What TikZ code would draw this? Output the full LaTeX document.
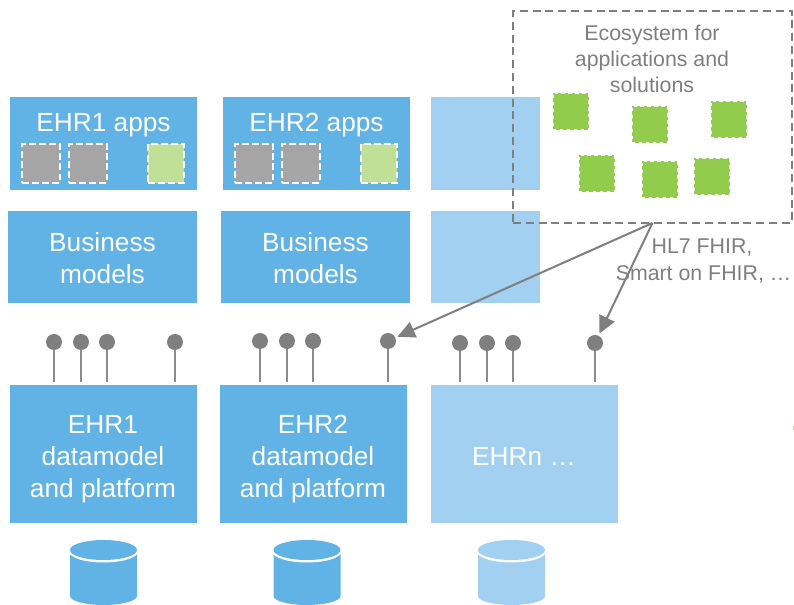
\documentclass[tikz,border=0pt]{standalone}
\usepackage{fontspec}
\setmainfont{Liberation Sans}
\definecolor{ehrblue}{HTML}{61B2E5}
\definecolor{ehrlight}{HTML}{A1D0F0}
\definecolor{ehrgray}{HTML}{7F7F7F}
\definecolor{appgray}{HTML}{A5A5A5}
\definecolor{appgreen}{HTML}{92CC4C}
\definecolor{applight}{HTML}{BFE096}
\newcommand{\dbcyl}[2]{%
  \fill[#2] (#1,552) -- (#1,596) arc[start angle=180,end angle=0,x radius=33.5,y radius=9] -- ++(0,-44) -- cycle;
  \fill[white] (#1+33.5,551.5) ellipse[x radius=34.5,y radius=11];
  \fill[#2] (#1+33.5,550) ellipse[x radius=33.5,y radius=10];
}
\tikzset{
  x=0.75pt,y=-0.75pt,
  wh/.style 2 args={minimum width=#1*0.75pt,minimum height=#2*0.75pt,inner sep=0pt,outer sep=0pt},
  bluebox/.style={fill=ehrblue,text=white,font=\fontsize{19.7}{24}\selectfont,align=center},
  lightbox/.style={fill=ehrlight,text=white,font=\fontsize{19.7}{24}\selectfont,align=center},
  boxtext/.style={text=white,font=\fontsize{19.7}{24}\selectfont,align=center,inner sep=0pt},
  slot/.style={wh={38}{39},draw=white,line width=1.4pt,dash pattern=on 5.2pt off 2.4pt},
  grayslot/.style={slot,fill=appgray},
  greenslot/.style={slot,fill=applight,wh={36}{39}},
  eco/.style={wh={36}{37},fill=appgreen,draw=white,line width=0.8pt,dash pattern=on 2.6pt off 2.6pt},
  pin/.style={circle,fill=ehrgray,minimum size=12pt,inner sep=0pt,outer sep=0pt},
  stem/.style={draw=ehrgray!90,line width=1.5pt,shorten >=2.2pt},
  link/.style={draw=ehrgray,line width=1.5pt,shorten >=1.8pt,-{Triangle[length=13pt,width=12.5pt]}},
  graytext/.style={text=ehrgray,font=\fontsize{16}{19.5}\selectfont,align=center,inner sep=0pt},
}
\usetikzlibrary{arrows.meta}
\begin{document}
\begin{tikzpicture}
\useasboundingbox (0,0) rectangle (794,605);
% app layer
\node[bluebox,wh={187}{93}] (apps1) at (103.5,143.5) {};
\node[bluebox,wh={187}{93}] (apps2) at (316.5,143.5) {};
\node[lightbox,wh={109}{93}] (apps3) at (485.5,143.5) {};
\node[boxtext] (apps1t) at (103.5,125.5) {EHR1 apps};
\node[boxtext] (apps2t) at (316.5,125.5) {EHR2 apps};
\node[grayslot] (s11) at (41,163.5) {};
\node[grayslot] (s12) at (88,163.5) {};
\node[greenslot] (s13) at (166,163.5) {};
\node[grayslot] (s21) at (254,163.5) {};
\node[grayslot] (s22) at (301,163.5) {};
\node[greenslot] (s23) at (379,163.5) {};
% business layer
\node[bluebox,wh={189}{92}] (biz1) at (102.5,257) {};
\node[bluebox,wh={189}{92}] (biz2) at (315.5,257) {};
\node[lightbox,wh={109}{92}] (biz3) at (485.5,257) {};
\node[boxtext] (biz1t) at (102.5,258) {Business\\models};
\node[boxtext] (biz2t) at (315.5,258) {Business\\models};
% platforms
\node[bluebox,wh={187}{138}] (plat1) at (103.5,454) {};
\node[bluebox,wh={187}{138}] (plat2) at (313.5,454) {};
\node[lightbox,wh={187}{138}] (plat3) at (524,454) {};
\node[boxtext] (plat1t) at (103,459) {EHR1\\datamodel\\and platform};
\node[boxtext] (plat2t) at (313,459) {EHR2\\datamodel\\and platform};
\node[boxtext] (plat3t) at (524,456) {EHRn …};
% pins
\foreach \n/\x/\y/\p in {p11/54/342/plat1,p12/81/342/plat1,p13/107/342/plat1,p14/175/342/plat1,
                         p21/260/341/plat2,p22/287/341/plat2,p23/313/341/plat2,p24/388/341/plat2,
                         p31/460/343/plat3,p32/487/343/plat3,p33/513/343/plat3,p34/595/343/plat3}{
  \node[pin] (\n) at (\x,\y) {};
  \draw[stem] (\n) -- (\n |- \p.north);
}
% ecosystem
\node[wh={279}{212},draw=ehrgray,line width=1.5pt,dash pattern=on 6pt off 3.6pt] (ecobox) at (652.5,117) {};
\node[graytext] (ecot) at (652,59) {Ecosystem for\\applications and\\solutions};
\node[eco] (e1) at (571,111.5) {};
\node[eco] (e2) at (650,124.5) {};
\node[eco] (e3) at (729,119.5) {};
\node[eco] (e4) at (597,173.5) {};
\node[eco] (e5) at (660,179.5) {};
\node[eco] (e6) at (712,176.5) {};
% links
\draw[link] (ecobox.south) -- (p24);
\draw[link] (ecobox.south) -- (p34);
\node[graytext] (fhir1) at (702,248) {HL7 FHIR,};
\node[graytext] (fhir2) at (703.5,274) {Smart on FHIR, …};
% databases
\dbcyl{70}{ehrblue}
\dbcyl{273.5}{ehrblue}
\dbcyl{478}{ehrlight}
% edge sliver
\fill[appgreen!60] (793,426) rectangle (794,430);
\end{tikzpicture}
\end{document}
